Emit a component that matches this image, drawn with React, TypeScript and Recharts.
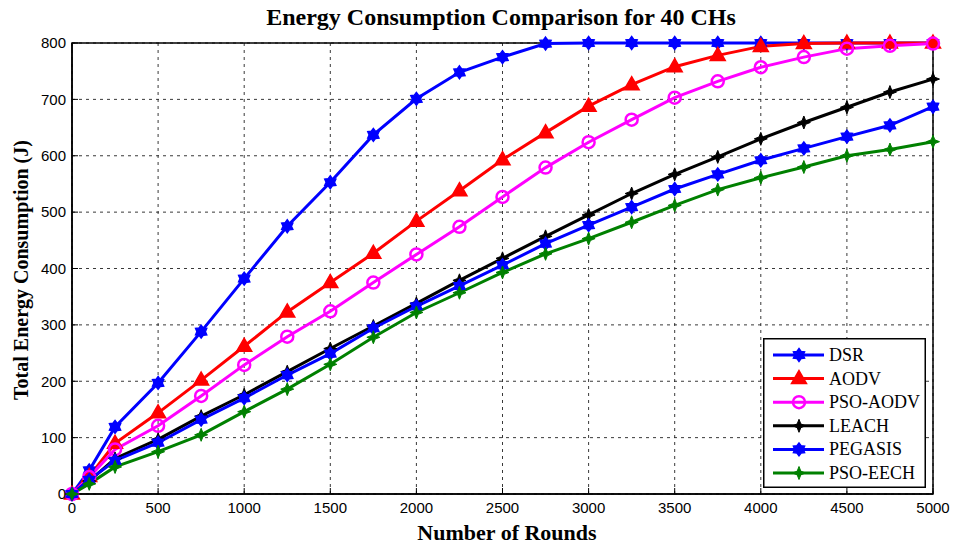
import React from 'react';
import { LineChart, Line, XAxis, YAxis, CartesianGrid, Legend, ReferenceArea } from 'recharts';

const rounds = [0, 100, 250, 500, 750, 1000, 1250, 1500, 1750, 2000, 2250, 2500, 2750, 3000, 3250, 3500, 3750, 4000, 4250, 4500, 4750, 5000];
const dsr = [0, 42, 119, 197, 288, 382, 475, 553, 637, 701, 748, 775, 799, 800, 800, 800, 800, 800, 800, 800, 800, 800];
const aodv = [0, 31, 90, 144, 202, 262, 323, 375, 427, 484, 538, 593, 641, 688, 726, 758, 778, 794, 799, 800, 800, 800];
const psoAodv = [0, 30, 79, 121, 174, 229, 279, 324, 375, 425, 474, 527, 579, 624, 664, 703, 732, 757, 775, 790, 795, 799];
const leach = [0, 23, 63, 97, 138, 176, 217, 258, 298, 338, 379, 418, 457, 495, 533, 567, 598, 630, 659, 686, 713, 736];
const pegasis = [0, 25, 59, 91, 132, 170, 211, 249, 294, 333, 369, 406, 444, 477, 509, 541, 567, 592, 613, 634, 654, 687];
const psoEech = [0, 18, 48, 75, 105, 146, 186, 230, 278, 322, 357, 393, 426, 453, 482, 512, 540, 561, 580, 600, 611, 625];

const xTicks = [0, 500, 1000, 1500, 2000, 2500, 3000, 3500, 4000, 4500, 5000];
const yTicks = [0, 100, 200, 300, 400, 500, 600, 700, 800];

const title = 'Energy Consumption Comparison for 40 CHs';
const xLabel = 'Number of Rounds';
const yLabel = 'Total Energy Consumption (J)';

type Shape = 'hexagram' | 'triangle' | 'circle' | 'star4';

const seriesList: { key: string; name: string; values: number[]; color: string; shape: Shape }[] = [
  { key: 'dsr', name: 'DSR', values: dsr, color: '#0000ff', shape: 'hexagram' },
  { key: 'aodv', name: 'AODV', values: aodv, color: '#ff0000', shape: 'triangle' },
  { key: 'psoAodv', name: 'PSO-AODV', values: psoAodv, color: '#ff00ff', shape: 'circle' },
  { key: 'leach', name: 'LEACH', values: leach, color: '#000000', shape: 'star4' },
  { key: 'pegasis', name: 'PEGASIS', values: pegasis, color: '#0000ff', shape: 'hexagram' },
  { key: 'psoEech', name: 'PSO-EECH', values: psoEech, color: '#008000', shape: 'star4' },
];

const data = rounds.map((r, i) => {
  const row: Record<string, number> = { round: r };
  seriesList.forEach((s) => {
    row[s.key] = s.values[i];
  });
  return row;
});

function starPath(cx: number, cy: number, points: number, outer: number, inner: number, rot = -Math.PI / 2) {
  let d = '';
  for (let i = 0; i < points * 2; i++) {
    const r = i % 2 === 0 ? outer : inner;
    const a = rot + (i * Math.PI) / points;
    d += (i === 0 ? 'M' : 'L') + (cx + r * Math.cos(a)).toFixed(2) + ',' + (cy + r * Math.sin(a)).toFixed(2);
  }
  return d + 'Z';
}

function Marker({ cx, cy, shape, color }: { cx: number; cy: number; shape: Shape; color: string }) {
  if (cx == null || cy == null) return null;
  switch (shape) {
    case 'hexagram':
      return <path d={starPath(cx, cy, 6, 6.5, 4.2)} fill={color} stroke={color} strokeWidth={1.4} />;
    case 'triangle':
      return <path d={`M${cx},${cy - 8}L${cx + 7.5},${cy + 5}L${cx - 7.5},${cy + 5}Z`} fill={color} stroke={color} strokeWidth={1.5} />;
    case 'circle':
      return <circle cx={cx} cy={cy} r={6} fill="none" stroke={color} strokeWidth={2.5} />;
    case 'star4':
      return <path d={starPath(cx, cy, 4, 6.5, 2.6)} fill={color} stroke={color} strokeWidth={1} />;
  }
  return null;
}

const LegendBox = () => (
  <svg width={163} height={150} style={{ display: 'block' }}>
    <rect x={0.75} y={0.75} width={161.5} height={148.5} fill="#fff" stroke="#000" strokeWidth={1.5} />
    {seriesList.map((s, i) => {
      const y = 17 + i * 23.6;
      return (
        <g key={s.key}>
          <line x1={10} x2={61} y1={y} y2={y} stroke={s.color} strokeWidth={3} />
          <Marker cx={36} cy={y} shape={s.shape} color={s.color} />
          <text x={66} y={y + 6} fontFamily="'Liberation Serif', 'Times New Roman', serif" fontSize={18} fill="#000">
            {s.name}
          </text>
        </g>
      );
    })}
  </svg>
);

const serif = "'Liberation Serif', 'Times New Roman', serif";
const sans = "'Liberation Sans', Arial, sans-serif";

export default function App() {
  return (
    <div style={{ position: 'absolute', left: 0, top: 0, width: 954, height: 549, background: '#fff' }}>
      <div
        style={{
          position: 'absolute',
          left: 0,
          top: 3,
          width: 1002,
          textAlign: 'center',
          fontFamily: serif,
          fontWeight: 'bold',
          fontSize: 24,
          color: '#000',
          lineHeight: '28px',
        }}
      >
        {title}
      </div>
      <div
        style={{
          position: 'absolute',
          left: 0,
          top: 520,
          width: 1014,
          textAlign: 'center',
          fontFamily: serif,
          fontWeight: 'bold',
          fontSize: 22,
          color: '#000',
          lineHeight: '26px',
        }}
      >
        {xLabel}
      </div>
      <div
        style={{
          position: 'absolute',
          left: 21,
          top: 270,
          transform: 'translate(-50%, -50%) rotate(-90deg)',
          whiteSpace: 'nowrap',
          fontFamily: serif,
          fontWeight: 'bold',
          fontSize: 20,
          color: '#000',
          lineHeight: '22px',
        }}
      >
        {yLabel}
      </div>
      <LineChart width={954} height={549} data={data} margin={{ top: 43, right: 21, bottom: 0, left: 0 }}>
        <CartesianGrid stroke="#222" strokeWidth={0.9} strokeDasharray="3 4" />
        <XAxis
          dataKey="round"
          type="number"
          domain={[0, 5000]}
          ticks={xTicks}
          height={55}
          tickSize={-6}
          tickMargin={14}
          interval={0}
          axisLine={{ stroke: '#000', strokeWidth: 1.5 }}
          tickLine={{ stroke: '#000' }}
          tick={{ fill: '#000', fontSize: 15, fontFamily: sans }}
        />
        <XAxis
          xAxisId="top"
          orientation="top"
          dataKey="round"
          type="number"
          domain={[0, 5000]}
          ticks={xTicks}
          height={0}
          tickSize={-6}
          interval={0}
          axisLine={{ stroke: '#000', strokeWidth: 1.5 }}
          tickLine={{ stroke: '#000' }}
          tick={{ fill: 'none', fontSize: 1 }}
        />
        <YAxis
          type="number"
          domain={[0, 800]}
          ticks={yTicks}
          width={72}
          tickSize={-6}
          tickMargin={12}
          interval={0}
          axisLine={{ stroke: '#000', strokeWidth: 1.5 }}
          tickLine={{ stroke: '#000' }}
          tick={{ fill: '#000', fontSize: 15, fontFamily: sans }}
        />
        <YAxis
          yAxisId="right"
          orientation="right"
          type="number"
          domain={[0, 800]}
          ticks={yTicks}
          width={0}
          tickSize={-6}
          interval={0}
          axisLine={{ stroke: '#000', strokeWidth: 1.5 }}
          tickLine={{ stroke: '#000' }}
          tick={{ fill: 'none', fontSize: 1 }}
        />
        <ReferenceArea x1={0} x2={5000} y1={0} y2={800} fill="none" stroke="#000" strokeWidth={1.5} />
        {seriesList.map((s) => (
          <Line
            key={s.key}
            dataKey={s.key}
            name={s.name}
            type="linear"
            stroke={s.color}
            strokeWidth={3}
            isAnimationActive={false}
            dot={(p: any) => <Marker key={`${s.key}-${p.index}`} cx={p.cx} cy={p.cy} shape={s.shape} color={s.color} />}
            activeDot={false}
          />
        ))}
        <Legend
          layout="vertical"
          align="center"
          verticalAlign="middle"
          content={() => <LegendBox />}
          wrapperStyle={{ position: 'absolute', left: 763, top: 338, width: 163, height: 150 }}
        />
      </LineChart>
    </div>
  );
}
